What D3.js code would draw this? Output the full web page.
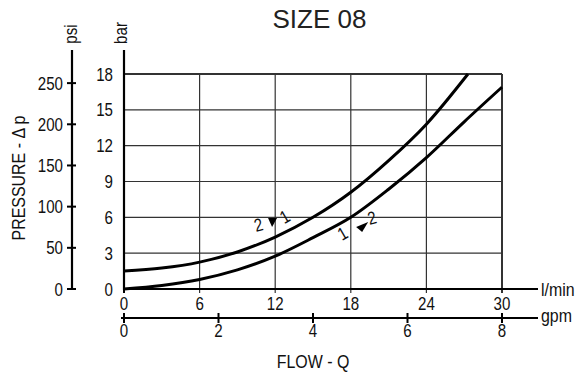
<!DOCTYPE html>
<html><head><meta charset="utf-8">
<script src="https://cdn.jsdelivr.net/npm/d3@7"></script>
<style>
html,body{margin:0;padding:0;background:#fff;}
svg text{font-family:"Liberation Sans",Arial,sans-serif;fill:#111;}
</style></head>
<body><svg id="c" width="581" height="376"></svg>
<script>
// ---- data ----
const title = "SIZE 08";
const flowTicksLmin = [0, 6, 12, 18, 24, 30];
const flowTicksGpm = [0, 2, 4, 6, 8];
const barTicks = [0, 3, 6, 9, 12, 15, 18];
const psiTicks = [0, 50, 100, 150, 200, 250];
// curve "upper" (flow l/min, pressure bar)
const curveUpperQ = [0, 3, 6, 9, 12, 15, 18, 21, 24, 27.3];
const curveUpperP = [1.5, 1.75, 2.25, 3.1, 4.35, 6.0, 8.1, 10.75, 13.8, 18];
// curve "lower"
const curveLowerQ = [0, 3, 6, 9, 12, 15, 18, 21, 24, 27, 30];
const curveLowerP = [0, 0.3, 0.8, 1.6, 2.75, 4.3, 6.0, 8.35, 11, 14, 16.9];
// flow direction labels (data coordinates)
const labelText = ["2", "1", "1", "2"];
const labelQ = [10.8, 13.0, 17.6, 19.8];
const labelP = [5.36, 6.1, 4.7, 5.95];
const labelAngle = [-15, -30, -30, -15];
const arrowQ = [11.83, 18.9];
const arrowP = [5.61, 5.2];

// ---- scales ----
const svg = d3.select("#c");
const x = d3.scaleLinear().domain([0, 30]).range([124, 502]);
const xg = d3.scaleLinear().domain([0, 8]).range([124, 502]);
const y = d3.scaleLinear().domain([0, 18]).range([289, 74]);
const yp = d3.scaleLinear().domain([0, 18 * 14.5038]).range([289, 74]);
const SX = 0.84; // condensed look

function txt(parent, tx, ty, str, size, anchor, rot) {
  return parent.append("text")
    .attr("transform", `translate(${tx},${ty})` + (rot ? ` rotate(${rot})` : "") + ` scale(${SX},1)`)
    .attr("text-anchor", anchor || "start").style("font-size", size + "px").text(str);
}

// title
svg.append("text").attr("x", 319.5).attr("y", 28).attr("text-anchor", "middle")
  .style("font-size", "26px").style("fill", "#222").text(title);

// grid
const g = svg.append("g");
g.selectAll("line.v").data(flowTicksLmin.slice(1)).join("line")
  .attr("x1", d => x(d)).attr("x2", d => x(d)).attr("y1", y(0) + 4).attr("y2", y(18))
  .attr("stroke", "#333").attr("stroke-width", d => d === 30 ? 2 : 1.2);
g.selectAll("line.h").data(barTicks.slice(1)).join("line")
  .attr("x1", x(0)).attr("x2", x(30)).attr("y1", d => y(d)).attr("y2", d => y(d))
  .attr("stroke", "#333").attr("stroke-width", d => d === 18 ? 2 : 1.2);

// bar axis
svg.append("line").attr("x1", x(0)).attr("x2", x(0)).attr("y1", y(0) + 1).attr("y2", 50).attr("stroke", "#000").attr("stroke-width", 2.2);
barTicks.forEach(d => txt(svg, 113, y(d) + 6.5, d, 18, "end"));
txt(svg, 127, 33, "bar", 18, "middle", -90);

// psi axis
svg.append("line").attr("x1", 72).attr("x2", 72).attr("y1", yp(0)).attr("y2", 50).attr("stroke", "#000").attr("stroke-width", 2.2);
svg.append("g").selectAll("line").data(psiTicks).join("line")
  .attr("x1", 67).attr("x2", 76).attr("y1", d => yp(d)).attr("y2", d => yp(d)).attr("stroke", "#000").attr("stroke-width", 2);
psiTicks.forEach(d => txt(svg, 63, yp(d) + 6.5, d, 18, "end"));
txt(svg, 77, 34, "psi", 18, "middle", -90);
txt(svg, 25, 178, "PRESSURE - \u0394 p", 19, "middle", -90);

// l/min axis
svg.append("line").attr("x1", x(0) - 1).attr("x2", 538).attr("y1", y(0)).attr("y2", y(0)).attr("stroke", "#000").attr("stroke-width", 2.2);
svg.append("line").attr("x1", x(0)).attr("x2", x(0)).attr("y1", y(0)).attr("y2", y(0) + 4).attr("stroke", "#000").attr("stroke-width", 2);
flowTicksLmin.forEach(d => txt(svg, x(d), 310, d, 18, "middle"));
txt(svg, 541, 296, "l/min", 19, "start");

// gpm axis
svg.append("line").attr("x1", 121).attr("x2", 538).attr("y1", 318).attr("y2", 318).attr("stroke", "#000").attr("stroke-width", 2.2);
svg.append("g").selectAll("line").data(flowTicksGpm).join("line")
  .attr("x1", d => xg(d)).attr("x2", d => xg(d)).attr("y1", 313).attr("y2", 323).attr("stroke", "#000").attr("stroke-width", 2);
flowTicksGpm.forEach(d => txt(svg, xg(d), 337, d, 18, "middle"));
txt(svg, 541, 322, "gpm", 19, "start");
txt(svg, 313, 368, "FLOW - Q", 19, "middle");

// curves
const line = d3.line().x(d => x(d[0])).y(d => y(d[1])).curve(d3.curveMonotoneX);
svg.append("path").datum(curveUpperQ.map((q, i) => [q, curveUpperP[i]])).attr("d", line)
  .attr("fill", "none").attr("stroke", "#000").attr("stroke-width", 3);
svg.append("path").datum(curveLowerQ.map((q, i) => [q, curveLowerP[i]])).attr("d", line)
  .attr("fill", "none").attr("stroke", "#000").attr("stroke-width", 3);

// direction labels
labelText.forEach((t, i) => txt(svg, x(labelQ[i]), y(labelP[i]) + 6, t, 18, "middle", labelAngle[i]));
// arrow triangles
const tri = [[[-5, -4], [4, -4], [-1, 5]], [[-6, 0], [6, -5], [0, 5]]];
svg.append("g").selectAll("path").data(arrowQ).join("path")
  .attr("d", (d, i) => "M" + tri[i].map(p => [x(d) + p[0], y(arrowP[i]) + p[1]].join(",")).join("L") + "Z")
  .attr("fill", "#000");
</script></body></html>
